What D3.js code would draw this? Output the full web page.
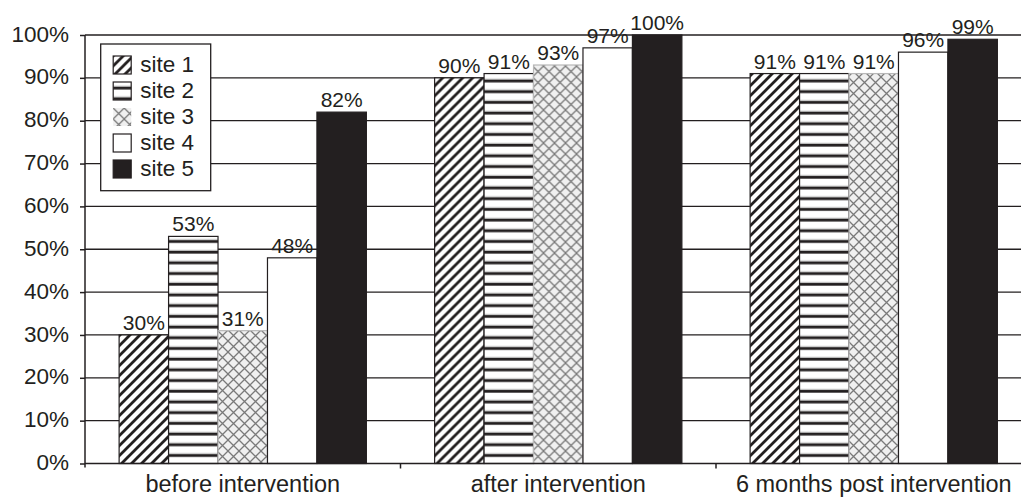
<!DOCTYPE html>
<html>
<head>
<meta charset="utf-8">
<script src="https://cdn.jsdelivr.net/npm/d3@7"></script>
<style>
  html, body { margin: 0; padding: 0; background: #fff; }
  svg { display: block; font-family: "Liberation Sans", Arial, Helvetica, sans-serif; }
</style>
</head>
<body>
<svg id="chart" width="1021" height="497"></svg>
<script>
// Share of compliance per site at each stage (percent)
const stages = ["before intervention", "after intervention", "6 months post intervention"];
const sites = ["site 1", "site 2", "site 3", "site 4", "site 5"];
const site1 = [30, 90, 91];
const site2 = [53, 91, 91];
const site3 = [31, 93, 91];
const site4 = [48, 97, 96];
const site5 = [82, 100, 99];
const yTicks = [0, 10, 20, 30, 40, 50, 60, 70, 80, 90, 100];

const seriesValues = [site1, site2, site3, site4, site5];
const rows = [];
stages.forEach((stage, i) => {
  sites.forEach((site, j) => rows.push({ stage, site, value: seriesValues[j][i] }));
});

const ink = "#231f20";
const svg = d3.select("#chart");

const plotLeft = 85, plotTop = 35, plotBottom = 463.5, bandW = 315.5;
const x0 = d3.scaleBand().domain(stages).range([plotLeft, plotLeft + bandW * stages.length]).padding(0);
const x1 = d3.scaleBand().domain(sites).range([0, x0.bandwidth()]).paddingInner(0).paddingOuter(0.69);
const y = d3.scaleLinear().domain([0, 100]).range([plotBottom, plotTop]);

// ---- fill patterns ----
const defs = svg.append("defs");

const diag = defs.append("pattern").attr("id", "p-diag")
  .attr("patternUnits", "userSpaceOnUse").attr("width", 10).attr("height", 10);
diag.append("rect").attr("width", 10).attr("height", 10).attr("fill", "#fff");
diag.append("path").attr("d", "M-3,3 L3,-3 M0,10 L10,0 M7,13 L13,7")
  .attr("stroke", ink).attr("stroke-width", 2.8);

const horiz = defs.append("pattern").attr("id", "p-horiz")
  .attr("patternUnits", "userSpaceOnUse").attr("width", 10).attr("height", 10.7);
horiz.append("rect").attr("width", 10).attr("height", 10.7).attr("fill", "#fff");
horiz.append("rect").attr("y", 3.5).attr("width", 10).attr("height", 1.2).attr("fill", "#d8d8d8");
horiz.append("rect").attr("y", 4.7).attr("width", 10).attr("height", 2.8).attr("fill", ink);

const cross = defs.append("pattern").attr("id", "p-cross")
  .attr("patternUnits", "userSpaceOnUse").attr("width", 11).attr("height", 11);
cross.append("rect").attr("width", 11).attr("height", 11).attr("fill", "#f0f0f0");
cross.append("path").attr("d", "M0,0 L11,11 M11,0 L0,11")
  .attr("stroke", "#7a7a7a").attr("stroke-width", 1.3);

const fills = {
  "site 1": "url(#p-diag)",
  "site 2": "url(#p-horiz)",
  "site 3": "url(#p-cross)",
  "site 4": "#fff",
  "site 5": ink
};
const strokes = {
  "site 1": ink, "site 2": ink, "site 3": "#b8b8b8", "site 4": ink, "site 5": ink
};

// ---- gridlines ----
svg.append("g").selectAll("line").data(yTicks.filter(d => d > 0)).join("line")
  .attr("x1", plotLeft).attr("x2", 1021)
  .attr("y1", d => y(d)).attr("y2", d => y(d))
  .attr("stroke", ink).attr("stroke-width", 1.3);

// ---- bars ----
const groups = svg.append("g").selectAll("g").data(stages).join("g")
  .attr("transform", d => `translate(${x0(d)},0)`);

groups.selectAll("rect").data(s => rows.filter(r => r.stage === s)).join("rect")
  .attr("x", d => x1(d.site))
  .attr("y", d => y(d.value))
  .attr("width", x1.bandwidth())
  .attr("height", d => y(0) - y(d.value))
  .attr("fill", d => fills[d.site])
  .attr("stroke", d => strokes[d.site])
  .attr("stroke-width", 1.2);

groups.selectAll("text").data(s => rows.filter(r => r.stage === s)).join("text")
  .attr("x", d => x1(d.site) + x1.bandwidth() / 2)
  .attr("y", d => y(d.value) - 5)
  .attr("text-anchor", "middle")
  .attr("font-size", 21)
  .attr("fill", ink)
  .text(d => d.value + "%");

// ---- axes ----
const yAxis = d3.axisLeft(y).tickValues(yTicks).tickSize(5).tickPadding(11).tickFormat(d => d + "%");
const gy = svg.append("g").attr("transform", `translate(${plotLeft},0)`).call(yAxis);
gy.select(".domain").attr("stroke", ink).attr("stroke-width", 1.5).attr("d", `M0,${plotTop}V${plotBottom + 4}`);
gy.selectAll(".tick line").attr("stroke", ink).attr("stroke-width", 1.5);
gy.selectAll(".tick text").attr("fill", ink).attr("font-size", 22.5)
  .attr("font-family", "Liberation Sans, Arial, sans-serif").attr("dy", "0.27em");

const xAxis = d3.axisBottom(x0).tickSize(0).tickPadding(0);
const gx = svg.append("g").attr("transform", `translate(0,${plotBottom})`).call(xAxis);
gx.select(".domain").attr("stroke", ink).attr("stroke-width", 1.5).attr("d", `M${plotLeft},0H1021`);
gx.selectAll(".tick text").attr("fill", ink).attr("font-size", 23.5)
  .attr("font-family", "Liberation Sans, Arial, sans-serif").attr("y", 28).attr("dy", 0);

// category separators on the baseline
svg.append("g").selectAll("line").data(stages.slice(1)).join("line")
  .attr("x1", d => x0(d)).attr("x2", d => x0(d))
  .attr("y1", plotBottom).attr("y2", plotBottom + 5)
  .attr("stroke", ink).attr("stroke-width", 1.5);

// ---- legend ----
const legend = svg.append("g").attr("transform", "translate(100.7,44)");
legend.append("rect").attr("width", 110).attr("height", 146.7)
  .attr("fill", "#fff").attr("stroke", ink).attr("stroke-width", 1.3);
const items = legend.selectAll("g.item").data(sites).join("g").attr("class", "item")
  .attr("transform", (d, i) => `translate(12.5,${12 + i * 26})`);
items.append("rect").attr("width", 18).attr("height", 18)
  .attr("fill", d => fills[d])
  .attr("stroke", d => d === "site 3" ? "none" : ink)
  .attr("stroke-width", 1.2);
items.append("text").attr("x", 27).attr("y", 16)
  .attr("font-size", 22.5).attr("fill", ink).text(d => d);
</script>
</body>
</html>
